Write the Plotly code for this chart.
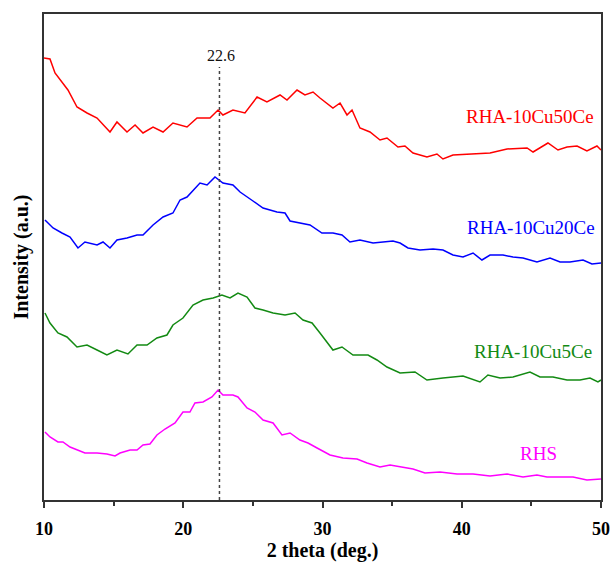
import plotly.graph_objects as go

# 2 theta (deg.) and intensity (a.u., offset-stacked)
x_50ce = [10.0, 10.43, 10.79, 11.15, 11.72, 12.37, 13.09, 13.81, 14.74, 15.24,
          15.96, 16.54, 17.11, 17.83, 18.55, 19.26, 20.27, 20.99, 21.92, 22.5,
          22.85, 23.57, 24.43, 25.3, 26.01, 26.95, 27.45, 28.17, 28.74, 29.32,
          29.82, 30.75, 31.26, 31.76, 32.12, 32.69, 33.41, 34.13, 34.63, 35.42,
          35.92, 36.5, 37.5, 38.22, 38.65, 39.37, 40.38, 41.31, 42.03, 43.25,
          44.69, 45.12, 45.62, 46.19, 46.91, 47.56, 48.28, 48.99, 49.71, 50.0]
y_50ce = [442, 441, 427, 420, 410, 393, 387, 382, 368, 378,
          368, 375, 367, 373, 368, 377, 373, 382, 382, 390,
          385, 390, 387, 403, 398, 405, 400, 410, 405, 408,
          402, 392, 397, 385, 390, 372, 368, 360, 362, 353,
          354, 347, 343, 346, 341, 345, 346, 347, 347, 351,
          352, 348, 352, 357, 350, 353, 354, 349, 354, 350]

x_20ce = [10.07, 10.65, 11.29, 11.87, 12.44, 12.94, 13.81, 14.24, 14.74, 15.24,
          15.96, 16.68, 17.11, 17.83, 18.55, 19.26, 19.77, 20.27, 21.2, 21.71,
          22.28, 22.85, 23.57, 24.08, 25.01, 25.73, 26.73, 27.31, 27.67, 28.38,
          29.1, 29.96, 30.75, 31.4, 31.97, 32.69, 33.63, 35.06, 35.57, 36.14,
          37.0, 37.94, 38.65, 39.37, 40.09, 40.81, 41.45, 42.03, 42.96, 43.68,
          44.4, 45.4, 46.34, 47.06, 47.77, 48.71, 49.35, 50.0]
y_20ce = [280, 272, 267, 263, 252, 258, 255, 258, 252, 260,
          262, 265, 265, 275, 283, 287, 300, 303, 317, 315,
          323, 317, 315, 308, 299, 292, 288, 287, 279, 277,
          275, 267, 267, 265, 258, 260, 257, 259, 257, 252,
          250, 251, 250, 245, 243, 247, 240, 245, 245, 243,
          242, 238, 242, 238, 238, 240, 236, 237]

x_5ce = [10.07, 10.43, 11.0, 11.65, 12.37, 13.09, 13.81, 14.52, 15.24, 16.03,
         16.68, 17.4, 18.11, 18.83, 19.26, 19.98, 20.7, 21.42, 22.14, 22.78,
         23.36, 23.93, 24.58, 25.15, 25.73, 26.45, 27.31, 28.03, 28.6, 29.25,
         29.82, 30.75, 31.4, 32.19, 33.27, 33.91, 34.63, 35.57, 36.64, 37.5,
         38.65, 40.09, 41.31, 41.88, 42.75, 43.68, 44.9, 45.62, 46.55, 47.56,
         48.49, 49.21, 49.78, 50.0]
y_5ce = [187, 177, 167, 163, 153, 155, 150, 145, 150, 146,
         155, 155, 162, 165, 175, 182, 195, 200, 202, 205,
         202, 207, 203, 192, 190, 187, 185, 187, 180, 177,
         167, 150, 153, 145, 145, 140, 133, 127, 128, 120,
         122, 124, 118, 125, 122, 123, 128, 123, 123, 120,
         120, 122, 118, 120]

x_rhs = [10.07, 10.43, 11.0, 11.36, 11.87, 12.37, 12.94, 13.81, 14.52, 15.1,
         15.46, 16.18, 16.68, 17.11, 17.61, 18.11, 18.69, 19.41, 19.98, 20.48,
         20.84, 21.42, 22.06, 22.5, 22.85, 23.57, 23.93, 24.58, 25.15, 25.73,
         26.45, 27.09, 27.67, 28.38, 28.96, 29.61, 30.54, 31.47, 32.48, 33.2,
         34.13, 34.85, 35.57, 36.5, 37.36, 38.44, 39.66, 40.81, 42.03, 43.25,
         44.4, 45.4, 46.12, 47.06, 47.99, 48.99, 50.0]
y_rhs = [68, 63, 58, 58, 53, 50, 47, 47, 46, 44,
         47, 50, 50, 55, 56, 65, 71, 77, 88, 88,
         97, 98, 103, 110, 105, 105, 103, 92, 88, 80,
         77, 65, 67, 60, 57, 52, 45, 42, 41, 37,
         33, 35, 33, 31, 27, 28, 26, 26, 24, 26,
         23, 25, 23, 23, 23, 20, 21]

series_names = ["RHA-10Cu50Ce", "RHA-10Cu20Ce", "RHA-10Cu5Ce", "RHS"]
series_colors = ["#ff0000", "#0000ff", "#138a13", "#ff00ff"]
label_x = [44.9, 45.0, 45.15, 45.48]
label_y = [384, 273, 149, 47]

peak_pos = 22.6
peak_line_top = 433

xs = [x_50ce, x_20ce, x_5ce, x_rhs]
ys = [y_50ce, y_20ce, y_5ce, y_rhs]

FONT = "Liberation Serif"

fig = go.Figure()
for xv, yv, name, col in zip(xs, ys, series_names, series_colors):
    fig.add_trace(go.Scatter(x=xv, y=yv, mode="lines", name=name,
                             line=dict(color=col, width=1.5), showlegend=False))

for name, col, lx, ly in zip(series_names, series_colors, label_x, label_y):
    fig.add_annotation(x=lx, y=ly, text=name, showarrow=False,
                       xanchor="center", yanchor="middle",
                       font=dict(family=FONT, size=19, color=col))

fig.add_shape(type="line", x0=peak_pos, x1=peak_pos, y0=0, y1=peak_line_top,
              xref="x", yref="y", line=dict(color="#444444", width=1.5, dash="dot"))
fig.add_annotation(x=peak_pos + 0.1, y=445, text=str(peak_pos), showarrow=False,
                   xanchor="center", yanchor="middle",
                   font=dict(family=FONT, size=16, color="#111111"))

fig.update_layout(
    width=612, height=562,
    margin=dict(l=44, r=11, t=14, b=62),
    plot_bgcolor="white", paper_bgcolor="white",
    font=dict(family=FONT, color="black"),
)
fig.update_xaxes(
    range=[10, 50], tickvals=[10, 20, 30, 40, 50],
    ticks="outside", ticklen=6, tickwidth=1.5, tickcolor="#333333",
    minor=dict(tickvals=[15, 25, 35, 45], ticks="outside", ticklen=4, tickwidth=1.5, tickcolor="#333333"),
    showline=True, linecolor="#333333", linewidth=1.5, mirror=True,
    showgrid=False, zeroline=False, automargin=False,
    tickfont=dict(family=FONT, size=18, color="black", weight="bold"),
    ticklabelstandoff=6,
    title=dict(text="2 theta (deg.)", font=dict(family=FONT, size=20, color="black", weight="bold"), standoff=6),
)
fig.update_yaxes(
    range=[0, 486], showticklabels=False, ticks="",
    showline=True, linecolor="#333333", linewidth=1.5, mirror=True,
    showgrid=False, zeroline=False, automargin=False,
    title=dict(text="Intensity (a.u.)", font=dict(family=FONT, size=20, color="black", weight="bold"), standoff=8),
)

fig.write_html("out.html", config={"displayModeBar": False},
               post_script="document.body.style.margin='0';")
